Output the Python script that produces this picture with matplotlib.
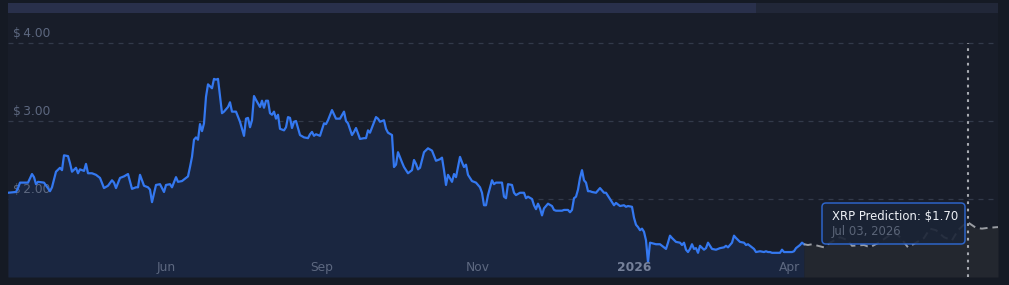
import numpy as np
import matplotlib
matplotlib.use("Agg")
import matplotlib.pyplot as plt
from matplotlib.patches import FancyBboxPatch, Rectangle

# --- data ---
# day index from chart start, price in USD
hist_days = [0, 4, 5, 6, 8, 10, 12, 13, 14, 15, 18, 21, 22, 24, 26, 27, 28, 30, 31, 32,
             34, 35, 36, 38, 39, 40, 42, 44, 46, 48, 50, 52, 53, 54, 56, 58, 60, 62, 64, 65,
             66, 68, 70, 71, 72, 74, 76, 78, 79, 81, 82, 84, 85, 87, 90, 91, 92, 93, 94, 95,
             96, 97, 98, 99, 100, 102, 103, 104, 105, 107, 108, 110, 111, 112, 114, 116, 118, 119, 120, 121,
             122, 123, 124, 126, 127, 128, 129, 130, 131, 132, 133, 134, 135, 136, 138, 139, 140, 141, 142, 143,
             144, 146, 148, 150, 151, 152, 153, 154, 156, 158, 159, 160, 162, 164, 166, 168, 169, 170, 172, 173,
             174, 176, 178, 179, 180, 181, 184, 185, 186, 188, 189, 190, 192, 193, 194, 195, 197, 198, 200, 202,
             203, 204, 205, 206, 208, 210, 212, 214, 216, 217, 218, 219, 220, 222, 223, 224, 226, 227, 228, 229,
             230, 232, 234, 236, 237, 238, 239, 240, 242, 243, 244, 246, 247, 248, 249, 250, 252, 253, 254, 256,
             258, 259, 260, 262, 263, 264, 265, 266, 267, 268, 270, 272, 273, 274, 277, 278, 280, 281, 282, 283,
             284, 285, 286, 287, 288, 289, 290, 291, 292, 294, 296, 298, 299, 300, 302, 303, 304, 306, 308, 309,
             310, 312, 313, 314, 315, 316, 317, 318, 319, 320, 321, 324, 326, 328, 329, 330, 331, 332, 334, 336,
             337, 338, 339, 340, 341, 342, 343, 344, 345, 346, 348, 349, 350, 351, 352, 354, 356, 358, 359, 360,
             362, 363, 364, 366, 368, 369, 370, 372, 373, 374, 376, 378, 379, 380, 381, 382, 384, 386, 387, 388,
             390, 392, 393, 394, 396, 397, 398]
hist_price = [2.08, 2.09, 2.14, 2.21, 2.21, 2.21, 2.32, 2.28, 2.19, 2.22, 2.21, 2.10, 2.15, 2.35, 2.40, 2.37, 2.56, 2.55, 2.46, 2.35,
              2.40, 2.33, 2.38, 2.36, 2.45, 2.33, 2.33, 2.31, 2.27, 2.14, 2.17, 2.24, 2.21, 2.14, 2.27, 2.29, 2.32, 2.13, 2.15, 2.15,
              2.31, 2.17, 2.15, 2.12, 1.96, 2.18, 2.19, 2.09, 2.18, 2.19, 2.15, 2.28, 2.22, 2.23, 2.29, 2.41, 2.54, 2.76, 2.79, 2.76,
              2.96, 2.87, 2.97, 3.31, 3.47, 3.42, 3.54, 3.53, 3.54, 3.10, 3.12, 3.18, 3.24, 3.12, 3.12, 2.99, 2.81, 3.03, 3.04, 2.92,
              3.01, 3.32, 3.27, 3.18, 3.26, 3.17, 3.26, 3.26, 3.10, 3.08, 3.12, 3.03, 3.08, 2.90, 2.88, 2.92, 3.05, 3.04, 2.91, 2.99,
              3.00, 2.82, 2.79, 2.78, 2.83, 2.86, 2.81, 2.83, 2.81, 2.97, 2.96, 3.01, 3.14, 3.03, 3.03, 3.12, 3.00, 2.97, 2.82, 2.86,
              2.91, 2.77, 2.78, 2.78, 2.88, 2.85, 3.05, 3.03, 2.99, 3.01, 2.90, 2.85, 2.82, 2.41, 2.44, 2.60, 2.47, 2.41, 2.33, 2.37,
              2.50, 2.45, 2.38, 2.40, 2.60, 2.65, 2.62, 2.49, 2.51, 2.53, 2.37, 2.18, 2.31, 2.22, 2.32, 2.28, 2.54, 2.47, 2.41, 2.44,
              2.31, 2.23, 2.21, 2.15, 2.08, 1.92, 1.92, 2.05, 2.24, 2.19, 2.21, 2.21, 2.21, 2.03, 2.01, 2.19, 2.18, 2.08, 2.05, 2.08,
              2.08, 2.01, 2.03, 2.00, 1.92, 1.87, 1.94, 1.88, 1.79, 1.88, 1.94, 1.91, 1.86, 1.85, 1.85, 1.86, 1.86, 1.83, 1.86, 2.01,
              2.03, 2.12, 2.27, 2.37, 2.24, 2.21, 2.10, 2.10, 2.09, 2.08, 2.14, 2.08, 2.08, 2.04, 1.96, 1.92, 1.95, 1.91, 1.92, 1.90,
              1.91, 1.90, 1.76, 1.67, 1.64, 1.60, 1.62, 1.58, 1.47, 1.19, 1.44, 1.42, 1.42, 1.38, 1.36, 1.44, 1.53, 1.50, 1.45, 1.44,
              1.41, 1.44, 1.35, 1.32, 1.36, 1.42, 1.36, 1.37, 1.31, 1.40, 1.35, 1.37, 1.44, 1.40, 1.36, 1.35, 1.37, 1.38, 1.40, 1.38,
              1.44, 1.53, 1.50, 1.45, 1.44, 1.41, 1.42, 1.38, 1.36, 1.32, 1.33, 1.32, 1.33, 1.32, 1.32, 1.31, 1.31, 1.31, 1.35, 1.32,
              1.32, 1.32, 1.33, 1.37, 1.41, 1.44, 1.42]

pred_days = [398, 400, 402, 405, 408, 411, 416, 420, 422, 428, 431, 436, 441, 444, 446, 450, 452, 458, 461, 464,
             468, 472, 475, 478, 480, 484, 487, 490, 495]
pred_price = [1.42, 1.41, 1.42, 1.40, 1.38, 1.44, 1.51, 1.47, 1.40, 1.41, 1.38, 1.45, 1.54, 1.56, 1.51, 1.38, 1.41, 1.50, 1.62, 1.60,
              1.51, 1.47, 1.60, 1.67, 1.70, 1.63, 1.62, 1.63, 1.64]

tick_days = [79, 157, 235, 313, 391]
tick_labels = ["Jun", "Sep", "Nov", "2026", "Apr"]
y_ticks = [2.0, 3.0, 4.0]

tip_day = 480
tip_value = 1.70
tip_date = "Jul 03, 2026"

# --- style ---
BG_OUT = "#151a24"
BG = "#181d29"
BLUE = "#3478f0"
BLUE_FILL = "#1a2640"
GRAY_FILL = "#23272f"
GRID = "#323a4a"
TXT = "#5d6880"

W, H = 1009, 285
fig = plt.figure(figsize=(W / 100, H / 100), dpi=100, facecolor=BG_OUT)

# top navigator bar
nav = fig.add_axes([8 / W, (H - 13) / H, 990 / W, 10 / H])
nav.set_xlim(0, 495)
nav.set_ylim(0, 1)
nav.axis("off")
nav.add_patch(Rectangle((0, 0), 495, 1, color="#212738", lw=0))
nav.add_patch(Rectangle((0, 0), 374, 1, color="#29304b", lw=0))

ax = fig.add_axes([8 / W, 8 / H, 990 / W, 264 / H])
ax.set_facecolor(BG)
ax.set_xlim(0, 495)
ymin = 1.0
ax.set_ylim(ymin, ymin + 264 / 78)
for s in ax.spines.values():
    s.set_visible(False)
ax.set_xticks([])
ax.set_yticks([])

for v in y_ticks:
    ax.axhline(v, color=GRID, lw=0.9, ls=(0, (4, 4)), zorder=1)
    ax.annotate(f"$\u2009{v:.2f}", xy=(0, v), xytext=(3.8, 6.8), textcoords="offset points",
                color=TXT, fontsize=8.8, ha="left", va="center", zorder=4)

ax.fill_between(hist_days, hist_price, ymin, color=BLUE_FILL, lw=0, zorder=3)
ax.fill_between(pred_days, pred_price, ymin, color=GRAY_FILL, lw=0, zorder=3)
ax.plot(hist_days, hist_price, color=BLUE, lw=1.6, zorder=5, solid_joinstyle="round")
ax.plot(pred_days, pred_price, color="#9a9da3", lw=1.4, ls=(0, (4, 2.5)), zorder=5)

for d, lab in zip(tick_days, tick_labels):
    bold = lab == "2026"
    ax.annotate(lab, xy=(d, ymin), xytext=(0, 6.5), textcoords="offset points",
                ha="center", va="center", fontsize=8.8,
                color="#76819a" if bold else TXT,
                fontweight="bold" if bold else "normal", zorder=6)

# crosshair + tooltip
ax.axvline(tip_day, ymax=(4.0 - ymin) / (264 / 78), color="#a8abb2", lw=1.5,
           ls=(0, (1.3, 2.2)), zorder=6)

box_x0, box_x1 = 822 - 8, 965 - 8
px2day = 495 / 990
def ypx(p):
    return ymin + (277 - p) / 78
tip = FancyBboxPatch((box_x0 * px2day, ypx(244)), (box_x1 - box_x0) * px2day, ypx(203) - ypx(244),
                     boxstyle="round,pad=0,rounding_size=2", mutation_aspect=1 / 78 / px2day,
                     fc="#1b2436", ec="#2f6bd8", lw=1.1, alpha=0.9, zorder=7)
ax.add_patch(tip)
ax.text((832 - 8) * px2day, ypx(217), f"XRP Prediction: ${tip_value:.2f}", color="#eef1f6",
        fontsize=8.4, ha="left", va="center", zorder=8)
ax.text((832 - 8) * px2day, ypx(231), tip_date, color="#5b6578",
        fontsize=8.4, ha="left", va="center", zorder=8)

fig.savefig("out.png", dpi=100, facecolor=BG_OUT)
